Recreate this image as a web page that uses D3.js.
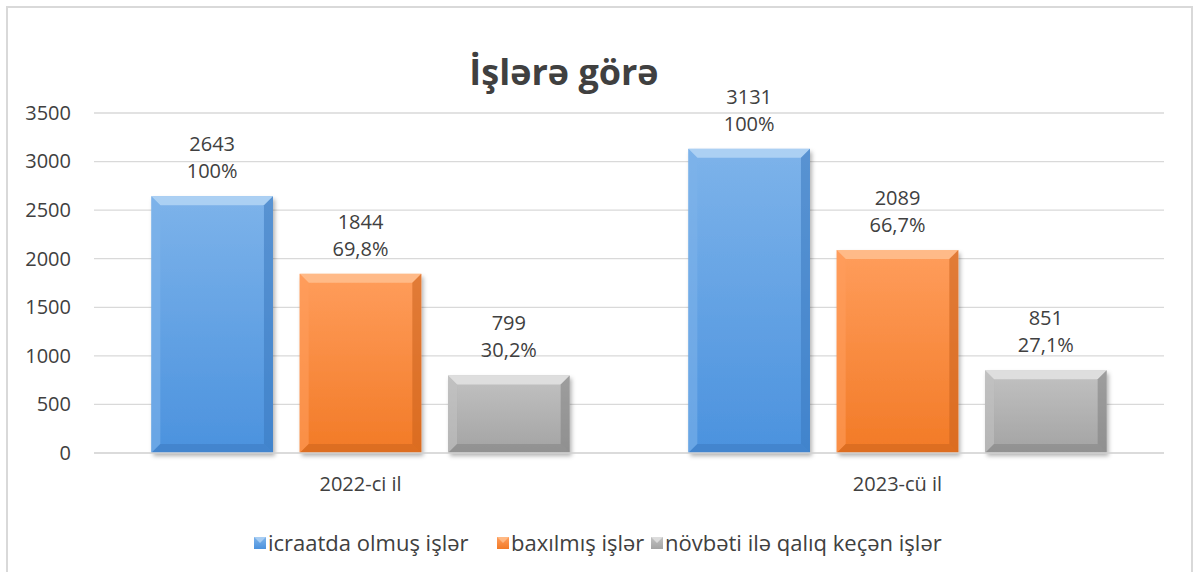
<!DOCTYPE html>
<html lang="en">
<head>
  <meta charset="utf-8">
  <title>İşlərə görə</title>
  <script src="https://d3js.org/d3.v7.min.js"></script>
  <style>
    body { margin: 0; background: #fff; }
    text { font-family: "Open Sans", "Noto Sans", sans-serif; fill: #404040; }
  </style>
</head>
<body>
  <script>
    // chart data
    var years = ["2022-ci il", "2023-cü il"];
    var seriesNames = ["icraatda olmuş işlər", "baxılmış işlər", "növbəti ilə qalıq keçən işlər"];
    var icraatda = [2643, 3131];
    var baxilmis = [1844, 2089];
    var novbeti = [799, 851];
    var percents = [["100%", "69,8%", "30,2%"], ["100%", "66,7%", "27,1%"]];
    var yTicks = [0, 500, 1000, 1500, 2000, 2500, 3000, 3500];

    var width = 1197, height = 572;
    var colors = [
      {top: "#7db3ea", bot: "#4b92de", light: "#b4d5f5", dark: "#3b78bd"},
      {top: "#ff9d5c", bot: "#f27a26", light: "#ffc08f", dark: "#c8601c"},
      {top: "#c2c2c2", bot: "#a3a3a3", light: "#e3e3e3", dark: "#808080"}
    ];

    var svg = d3.select("body").append("svg")
      .attr("width", width)
      .attr("height", height);

    var defs = svg.append("defs");
    colors.forEach(function(c, i) {
      var g = defs.append("linearGradient").attr("id", "grad" + i)
        .attr("x1", 0).attr("y1", 0).attr("x2", 0).attr("y2", 1);
      g.append("stop").attr("offset", "0%").attr("stop-color", c.top);
      g.append("stop").attr("offset", "100%").attr("stop-color", c.bot);
    });
    var f = defs.append("filter").attr("id", "shadow")
      .attr("x", "-10%").attr("y", "-10%").attr("width", "130%").attr("height", "130%");
    f.append("feDropShadow").attr("dx", 2).attr("dy", 3).attr("stdDeviation", 2)
      .attr("flood-color", "#000").attr("flood-opacity", 0.3);

    // outer border
    svg.append("rect")
      .attr("x", 7).attr("y", 7).attr("width", 1185).attr("height", 580)
      .attr("fill", "none").attr("stroke", "#d9d9d9").attr("stroke-width", 2);

    var plotLeft = 92, plotRight = 1166, plotTop = 113, plotBottom = 453;

    var y = d3.scaleLinear().domain([0, 3500]).range([plotBottom, plotTop]);
    var x0 = d3.scaleBand().domain(years).range([plotLeft, plotRight]);
    var x1 = d3.scaleBand().domain(seriesNames).range([0, x0.bandwidth()])
      .paddingInner(0.18).paddingOuter(0.4);

    // grid
    svg.append("g").selectAll("line").data(yTicks).enter().append("line")
      .attr("x1", 94).attr("x2", plotRight - 2)
      .attr("y1", function(d) { return y(d); })
      .attr("y2", function(d) { return y(d); })
      .attr("stroke", "#d9d9d9").attr("stroke-width", 1.3);

    // y axis
    var yAxis = svg.append("g")
      .attr("transform", "translate(94,0)")
      .call(d3.axisLeft(y).tickValues(yTicks).tickSize(0).tickPadding(23).tickFormat(d3.format("d")));
    yAxis.select(".domain").remove();
    yAxis.selectAll("text").style("font-size", "20px").attr("fill", "#404040");

    // x axis
    var xAxis = svg.append("g")
      .attr("transform", "translate(0," + plotBottom + ")")
      .call(d3.axisBottom(x0).tickSize(0).tickPadding(24));
    xAxis.select(".domain").remove();
    xAxis.selectAll("text").style("font-size", "20px").attr("fill", "#404040");

    var rows = years.map(function(yr, i) {
      return [icraatda[i], baxilmis[i], novbeti[i]].map(function(v, j) {
        return {year: yr, series: seriesNames[j], value: v, idx: j, pct: percents[i][j]};
      });
    });

    var groups = svg.append("g").selectAll("g").data(rows).enter().append("g")
      .attr("transform", function(d, i) { return "translate(" + x0(years[i]) + ",0)"; });

    var bars = groups.selectAll("g.bar").data(function(d) { return d; }).enter()
      .append("g").attr("class", "bar");

    var b = 9; // bevel size
    bars.each(function(d) {
      var g = d3.select(this);
      var bx = x1(d.series), bw = x1.bandwidth();
      var by = y(d.value), bh = plotBottom - by;
      var c = colors[d.idx];
      g.append("rect").attr("x", bx).attr("y", by).attr("width", bw).attr("height", bh)
        .attr("fill", "url(#grad" + d.idx + ")").attr("filter", "url(#shadow)");
      // bevel edges
      var x2 = bx + bw, y2 = by + bh;
      g.append("path").attr("d", d3.line()([[bx, by], [x2, by], [x2 - b, by + b], [bx + b, by + b]]))
        .attr("fill", c.light).attr("opacity", 0.85);
      g.append("path").attr("d", d3.line()([[bx, by], [bx + b, by + b], [bx + b, y2 - b], [bx, y2]]))
        .attr("fill", c.top).attr("opacity", 0.6);
      g.append("path").attr("d", d3.line()([[x2, by], [x2 - b, by + b], [x2 - b, y2 - b], [x2, y2]]))
        .attr("fill", c.dark).attr("opacity", 0.55);
      g.append("path").attr("d", d3.line()([[bx, y2], [bx + b, y2 - b], [x2 - b, y2 - b], [x2, y2]]))
        .attr("fill", c.dark).attr("opacity", 0.5);

      var cx = bx + bw / 2;
      g.append("text").attr("x", cx).attr("y", by - 45).attr("text-anchor", "middle")
        .style("font-size", "20px").text(d.value);
      g.append("text").attr("x", cx).attr("y", by - 18).attr("text-anchor", "middle")
        .style("font-size", "20px").text(d.pct);
    });

    // x baseline over the bars
    svg.append("line").attr("x1", 94).attr("x2", plotRight - 2)
      .attr("y1", plotBottom).attr("y2", plotBottom)
      .attr("stroke", "#d9d9d9").attr("stroke-width", 1.3);

    // title
    svg.append("text").attr("x", 564).attr("y", 85).attr("text-anchor", "middle")
      .style("font-size", "36px").style("font-weight", "bold").attr("fill", "#595959")
      .text("İşlərə görə");

    // legend
    var legendX = [254, 497, 651];
    var legend = svg.append("g").selectAll("g").data(seriesNames).enter().append("g")
      .attr("transform", function(d, i) { return "translate(" + legendX[i] + ",537)"; });
    legend.append("rect").attr("width", 12).attr("height", 12)
      .attr("fill", function(d, i) { return "url(#grad" + i + ")"; });
    legend.append("path").attr("d", "M0,0L12,0L6,6Z")
      .attr("fill", function(d, i) { return colors[i].light; }).attr("opacity", 0.8);
    legend.append("text").attr("x", 14).attr("y", 14)
      .style("font-size", "22px").text(function(d) { return d; });
  </script>
</body>
</html>
